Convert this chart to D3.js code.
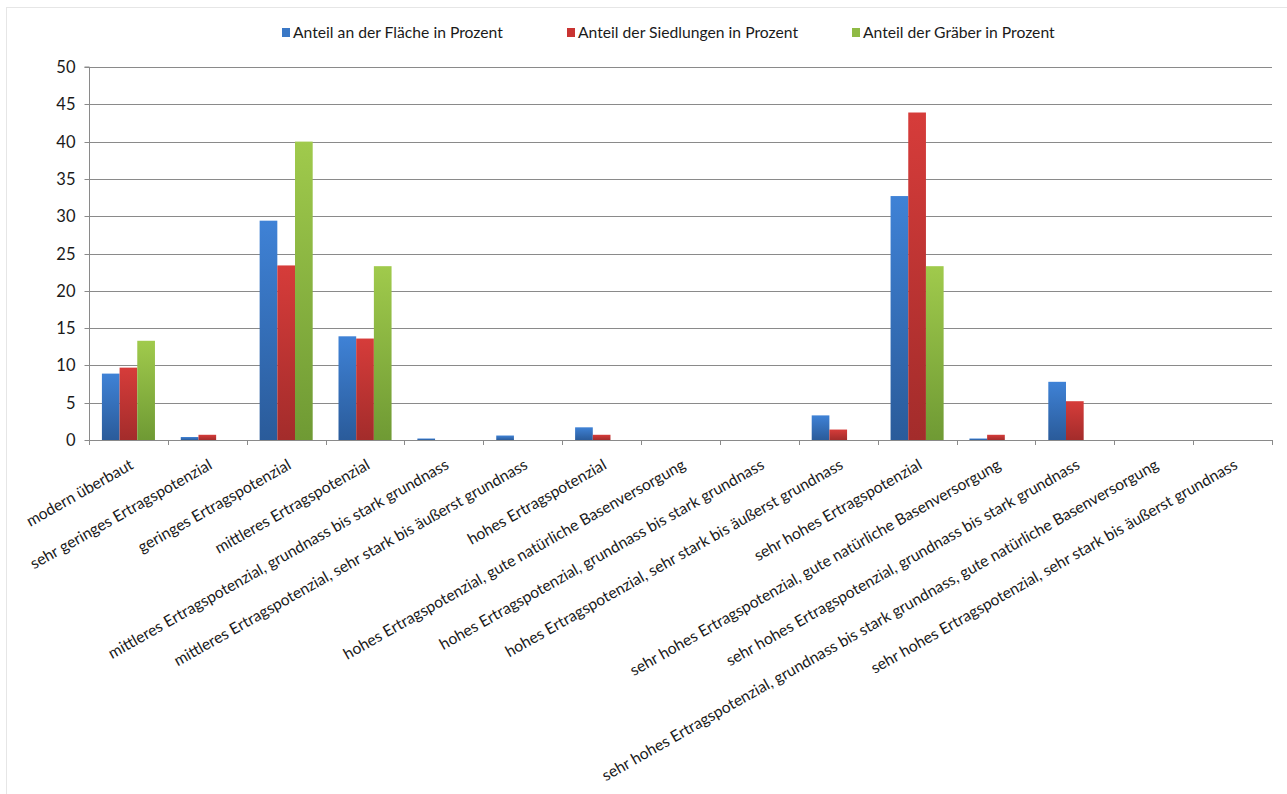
<!DOCTYPE html>
<html>
<head>
<meta charset="utf-8">
<script src="https://cdn.jsdelivr.net/npm/d3@7"></script>
<style>
  html, body { margin: 0; padding: 0; background: #fff; }
  svg { display: block; }
  text { font-family: Lato, "Open Sans", sans-serif; fill: #1a1a1a; }
</style>
</head>
<body>
<svg id="chart" width="1287" height="794"></svg>
<script>
// Bodenkategorien (Ertragspotenzial) on the x axis
const categories = [
  "modern überbaut",
  "sehr geringes Ertragspotenzial",
  "geringes Ertragspotenzial",
  "mittleres Ertragspotenzial",
  "mittleres Ertragspotenzial, grundnass bis stark grundnass",
  "mittleres Ertragspotenzial, sehr stark bis äußerst grundnass",
  "hohes Ertragspotenzial",
  "hohes Ertragspotenzial, gute natürliche Basenversorgung",
  "hohes Ertragspotenzial, grundnass bis stark grundnass",
  "hohes Ertragspotenzial, sehr stark bis äußerst grundnass",
  "sehr hohes Ertragspotenzial",
  "sehr hohes Ertragspotenzial, gute natürliche Basenversorgung",
  "sehr hohes Ertragspotenzial, grundnass bis stark grundnass",
  "sehr hohes Ertragspotenzial, grundnass bis stark grundnass, gute natürliche Basenversorgung",
  "sehr hohes Ertragspotenzial, sehr stark bis äußerst grundnass"
];

const seriesNames = [
  "Anteil an der Fläche in Prozent",
  "Anteil der Siedlungen in Prozent",
  "Anteil der Gräber in Prozent"
];

// Werte in Prozent
const flaeche    = [8.9, 0.4, 29.4, 13.9, 0.2, 0.6, 1.7, 0, 0, 3.3, 32.7, 0.2, 7.8, 0, 0];
const siedlungen = [9.7, 0.7, 23.4, 13.6, 0, 0, 0.7, 0, 0, 1.4, 43.9, 0.7, 5.2, 0, 0];
const graeber    = [13.3, 0, 40.0, 23.3, 0, 0, 0, 0, 0, 0, 23.3, 0, 0, 0, 0];

const yTicks = [0, 5, 10, 15, 20, 25, 30, 35, 40, 45, 50];

const seriesValues = [flaeche, siedlungen, graeber];
const colors = [
  { top: "#3f82d6", bottom: "#2a5b9a", key: "#3a78c6" },
  { top: "#d63c3a", bottom: "#a32c2b", key: "#c93432" },
  { top: "#a0ca4c", bottom: "#6f9a34", key: "#8fba45" }
];

const svg = d3.select("#chart");

// chart area frame
svg.append("rect")
  .attr("x", 6.5).attr("y", 7.5)
  .attr("width", 1300).attr("height", 800)
  .attr("fill", "none").attr("stroke", "#e6e6e6");

const plotLeft = 89, plotRight = 1272, plotTop = 67, plotBottom = 440;

const x = d3.scaleBand().domain(categories).range([plotLeft, plotRight]).padding(0);
const x1 = d3.scaleBand().domain(seriesNames).range([0, x.bandwidth()])
  .paddingInner(0).paddingOuter(0.73);
const y = d3.scaleLinear().domain([0, 50]).range([plotBottom, plotTop]);

// gradients
const defs = svg.append("defs");
colors.forEach((c, i) => {
  const g = defs.append("linearGradient").attr("id", "grad" + i)
    .attr("x1", 0).attr("y1", 0).attr("x2", 0).attr("y2", 1);
  g.append("stop").attr("offset", "0%").attr("stop-color", c.top);
  g.append("stop").attr("offset", "100%").attr("stop-color", c.bottom);
});

// gridlines
svg.append("g")
  .selectAll("line")
  .data(yTicks.filter(t => t > 0))
  .join("line")
  .attr("x1", plotLeft).attr("x2", plotRight)
  .attr("y1", d => Math.round(y(d)) + 0.5).attr("y2", d => Math.round(y(d)) + 0.5)
  .attr("stroke", "#8a8a8a").attr("stroke-width", 1);

// y axis
const yAxis = svg.append("g")
  .attr("transform", `translate(${plotLeft + 0.5},0)`)
  .call(d3.axisLeft(y).tickValues(yTicks).tickSize(5).tickPadding(9).tickFormat(d3.format("d")));
yAxis.select(".domain").attr("stroke", "#8a8a8a").attr("d", `M-5,${y(50)}H0V${y(0)}`);
yAxis.selectAll(".tick line").attr("stroke", "#8a8a8a");
yAxis.selectAll(".tick text").style("font-size", "16.5px").attr("fill", "#1a1a1a");
yAxis.selectAll(".tick").attr("transform", d => `translate(0,${Math.round(y(d)) + 0.5})`);

// bars
const groups = svg.append("g")
  .selectAll("g")
  .data(categories)
  .join("g")
  .attr("transform", d => `translate(${x(d)},0)`);

groups.selectAll("rect")
  .data((d, ci) => seriesNames.map((s, si) => ({ s, si, v: seriesValues[si][ci] })))
  .join("rect")
  .filter(d => d.v > 0)
  .attr("x", d => x1(d.s))
  .attr("width", x1.bandwidth())
  .attr("y", d => y(d.v))
  .attr("height", d => y(0) - y(d.v))
  .attr("fill", d => `url(#grad${d.si})`);

// x axis with ticks at category boundaries
const xAxisG = svg.append("g");
xAxisG.append("line")
  .attr("x1", plotLeft).attr("x2", plotRight)
  .attr("y1", plotBottom + 0.5).attr("y2", plotBottom + 0.5)
  .attr("stroke", "#8a8a8a");
const boundaries = categories.map(c => x(c)).concat([x(categories[categories.length - 1]) + x.bandwidth()]);
xAxisG.selectAll("line.tk")
  .data(boundaries)
  .join("line").attr("class", "tk")
  .attr("x1", d => Math.round(d) + 0.5).attr("x2", d => Math.round(d) + 0.5)
  .attr("y1", plotBottom).attr("y2", plotBottom + 5)
  .attr("stroke", "#8a8a8a");

// rotated category labels
const angle = -29.5;
xAxisG.selectAll("text")
  .data(categories)
  .join("text")
  .attr("text-anchor", "end")
  .attr("transform", d => `translate(${x(d) + x.bandwidth() / 2 + 6},${plotBottom + 28}) rotate(${angle})`)
  .style("font-size", "15.7px")
  .text(d => d);

// legend
const legend = svg.append("g");
seriesNames.forEach((s, i) => {
  const lx = 282 + i * 285;
  legend.append("rect")
    .attr("x", lx).attr("y", 28).attr("width", 8).attr("height", 9)
    .attr("fill", colors[i].key);
  legend.append("text")
    .attr("x", lx + 11).attr("y", 38)
    .style("font-size", "15.7px")
    .text(s);
});
</script>
</body>
</html>
